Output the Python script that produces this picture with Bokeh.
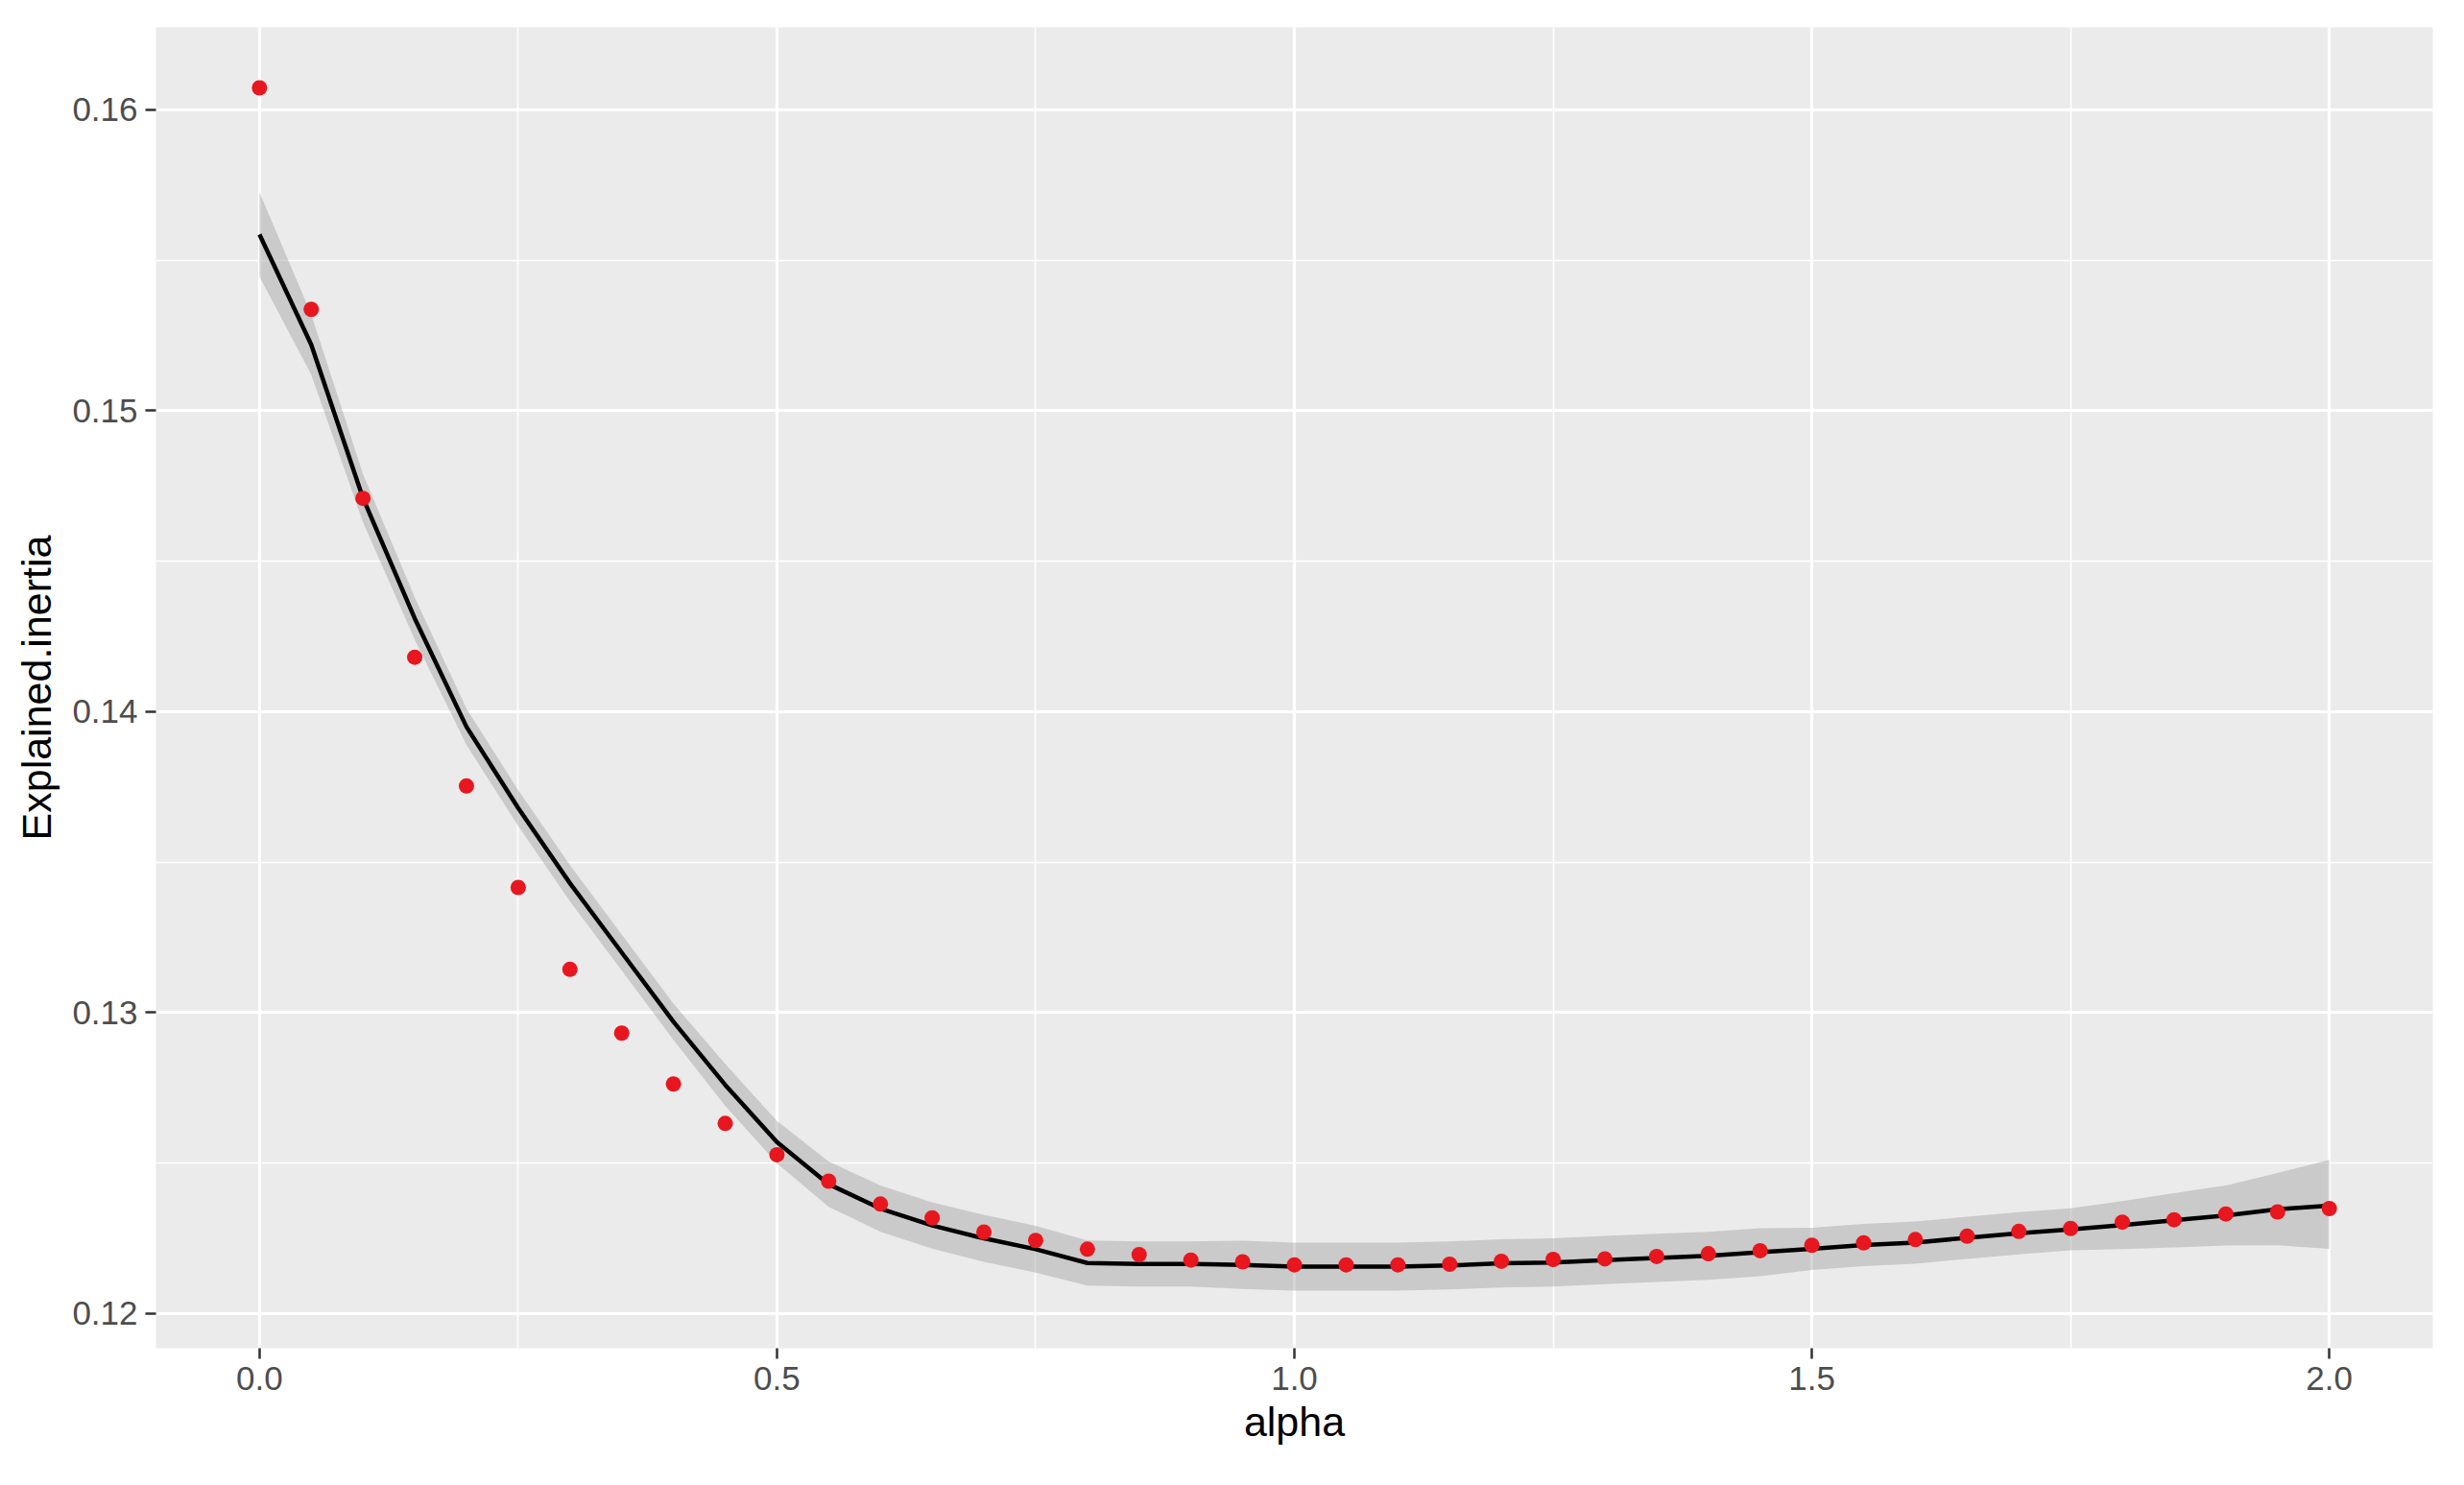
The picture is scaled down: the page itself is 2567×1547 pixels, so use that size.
from bokeh.plotting import figure
from bokeh.models import Range1d, FixedTicker, NumeralTickFormatter
from bokeh.embed import file_html
from bokeh.resources import INLINE

# ---- data ----
alpha = [0.00, 0.05, 0.10, 0.15, 0.20, 0.25, 0.30, 0.35, 0.40, 0.45,
         0.50, 0.55, 0.60, 0.65, 0.70, 0.75, 0.80, 0.85, 0.90, 0.95,
         1.00, 1.05, 1.10, 1.15, 1.20, 1.25, 1.30, 1.35, 1.40, 1.45,
         1.50, 1.55, 1.60, 1.65, 1.70, 1.75, 1.80, 1.85, 1.90, 1.95, 2.00]

explained_inertia = [0.16073, 0.15337, 0.14709, 0.14181, 0.13753, 0.13416, 0.13144, 0.12932, 0.12763, 0.12632,
                     0.12528, 0.12440, 0.12364, 0.12318, 0.12271, 0.12243, 0.12214, 0.12196, 0.12178, 0.12172,
                     0.12162, 0.12162, 0.12162, 0.12164, 0.12174, 0.12180, 0.12182, 0.12190, 0.12199, 0.12209,
                     0.12227, 0.12235, 0.12246, 0.12257, 0.12273, 0.12283, 0.12304, 0.12312, 0.12331, 0.12338, 0.12349]

smooth_fit = [0.15586, 0.15220, 0.14710, 0.14310, 0.13950, 0.13680, 0.13430, 0.13200, 0.12970, 0.12760,
              0.12570, 0.12430, 0.12349, 0.12293, 0.12250, 0.12214, 0.12168, 0.12165, 0.12165, 0.12162,
              0.12156, 0.12156, 0.12156, 0.12160, 0.12167, 0.12170, 0.12178, 0.12185, 0.12192, 0.12204,
              0.12215, 0.12228, 0.12236, 0.12252, 0.12267, 0.12280, 0.12294, 0.12310, 0.12326, 0.12347, 0.12359]

smooth_lower = [0.15446, 0.15120, 0.14630, 0.14240, 0.13890, 0.13620, 0.13370, 0.13140, 0.12910, 0.12690,
                0.12500, 0.12355, 0.12272, 0.12216, 0.12172, 0.12136, 0.12093, 0.12090, 0.12090, 0.12082,
                0.12076, 0.12076, 0.12076, 0.12080, 0.12087, 0.12090, 0.12098, 0.12105, 0.12112, 0.12124,
                0.12145, 0.12158, 0.12166, 0.12182, 0.12197, 0.12210, 0.12214, 0.12220, 0.12226, 0.12227, 0.12215]

smooth_upper = [0.15726, 0.15320, 0.14790, 0.14380, 0.14010, 0.13740, 0.13490, 0.13260, 0.13030, 0.12830,
                0.12640, 0.12505, 0.12426, 0.12370, 0.12328, 0.12292, 0.12243, 0.12240, 0.12240, 0.12242,
                0.12236, 0.12236, 0.12236, 0.12240, 0.12247, 0.12250, 0.12258, 0.12265, 0.12272, 0.12284,
                0.12285, 0.12298, 0.12306, 0.12322, 0.12337, 0.12350, 0.12374, 0.12400, 0.12426, 0.12467, 0.12511]

x_major = [0.0, 0.5, 1.0, 1.5, 2.0]
x_minor = [0.25, 0.75, 1.25, 1.75]
y_major = [0.12, 0.13, 0.14, 0.15, 0.16]
y_minor = [0.125, 0.135, 0.145, 0.155]

FONT = "Liberation Sans"

p = figure(frame_width=2372, frame_height=1376,
           min_border_left=162, min_border_top=28, min_border_right=17, min_border_bottom=121,
           x_range=Range1d(-0.1, 2.1), y_range=Range1d(0.11885, 0.16274),
           output_backend="svg", toolbar_location=None,
           background_fill_color="#EBEBEB", border_fill_color="white")
p.outline_line_color = None

# ribbon, smooth line, points
p.varea(x=alpha, y1=smooth_lower, y2=smooth_upper, fill_color="#999999", fill_alpha=0.4)
p.line(x=alpha, y=smooth_fit, line_color="black", line_width=4.5)
p.scatter(x=alpha, y=explained_inertia, size=16, fill_color="#E8161E", line_color=None)

p.xaxis.ticker = FixedTicker(ticks=x_major, minor_ticks=x_minor)
p.yaxis.ticker = FixedTicker(ticks=y_major, minor_ticks=y_minor)
p.xaxis.formatter = NumeralTickFormatter(format="0.0")
p.yaxis.formatter = NumeralTickFormatter(format="0.00")

for g in (p.xgrid, p.ygrid):
    g.grid_line_color = "white"
    g.grid_line_width = 3.2
    g.minor_grid_line_color = "white"
    g.minor_grid_line_width = 1.6

for ax in (p.xaxis, p.yaxis):
    ax.axis_line_color = None
    ax.major_tick_line_color = "#333333"
    ax.major_tick_line_width = 2.5
    ax.major_tick_out = 11
    ax.major_tick_in = 0
    ax.minor_tick_line_color = None
    ax.major_label_text_font = FONT
    ax.major_label_text_font_size = "35px"
    ax.major_label_text_color = "#4D4D4D"
    ax.major_label_standoff = 8
    ax.axis_label_text_font = FONT
    ax.axis_label_text_font_size = "43px"
    ax.axis_label_text_font_style = "normal"
    ax.axis_label_text_color = "black"

p.xaxis.axis_label = "alpha"
p.yaxis.axis_label = "Explained.inertia"
p.xaxis.axis_label_standoff = 6
p.yaxis.axis_label_standoff = 10

open("out.html", "w").write(file_html(p, INLINE))
